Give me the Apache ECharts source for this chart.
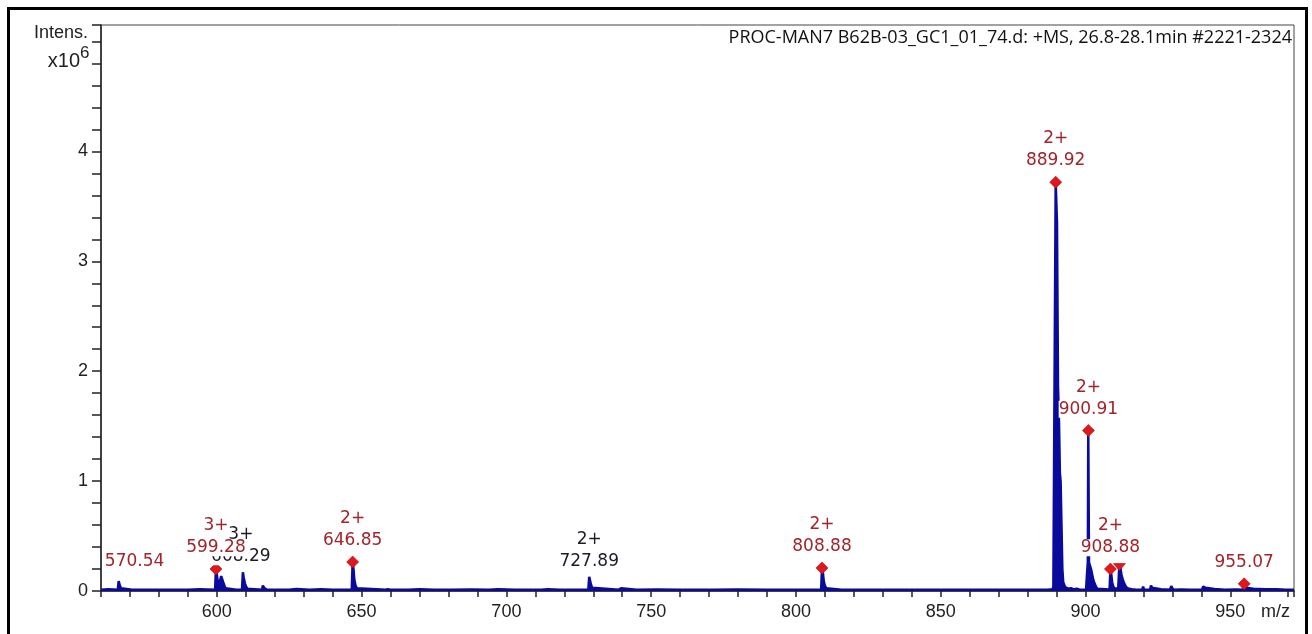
<!DOCTYPE html>
<html>
<head>
<meta charset="utf-8">
<title>MS spectrum</title>
<script src="https://cdn.jsdelivr.net/npm/echarts@6/dist/echarts.min.js"></script>
<style>
	html, body { margin: 0; padding: 0; background: #fff; }
	#main { width: 1312px; height: 634px; }
</style>
</head>
<body>
<div id="main"></div>
<script>
// spectrum, intensity in units of 10^6
var mz = [
	560.0, 562.5, 563.0, 565.8, 566.1, 566.5, 566.9, 567.4, 570.8, 571.0, 571.3, 575.0, 578.2, 578.5, 578.8,
	585.2, 585.5, 585.8, 590.0, 594.0, 599.4, 599.7, 600.0, 600.3, 600.7, 601.2, 601.5, 601.9, 602.2, 602.6,
	603.0, 603.6, 606.7, 606.9, 607.2, 608.7, 609.0, 609.3, 609.7, 610.1, 610.6, 611.2, 615.6, 615.9, 616.3,
	616.8, 617.3, 619.1, 619.3, 619.6, 625.0, 627.5, 627.8, 632.0, 636.0, 640.0, 646.6, 646.9, 647.2, 647.5,
	647.9, 648.4, 649.0, 658.3, 658.6, 659.0, 659.6, 660.0, 666.0, 670.0, 675.0, 681.0, 688.0, 694.0, 697.0,
	703.0, 703.3, 703.6, 712.0, 714.3, 714.6, 718.6, 718.9, 719.2, 724.0, 728.3, 728.6, 728.9, 729.2, 729.6,
	730.1, 738.8, 739.0, 739.6, 739.9, 745.0, 752.0, 760.0, 771.0, 780.0, 790.0, 800.0, 808.7, 809.0, 809.3,
	809.6, 810.0, 810.5, 811.1, 815.7, 815.9, 816.2, 825.0, 835.0, 845.0, 854.8, 855.0, 855.3, 863.8, 864.0,
	864.3, 872.0, 879.8, 880.0, 880.3, 887.0, 888.6, 888.9, 889.2, 889.45, 889.7, 889.95, 890.15, 890.35, 890.5,
	890.7, 890.85, 891.0, 891.15, 891.4, 891.7, 892.0, 892.3, 892.7, 893.2, 893.8, 894.3, 895.0, 896.0, 897.0,
	898.0, 899.5, 900.2, 900.5, 900.8, 900.95, 901.1, 901.2, 901.5, 901.9, 902.3, 902.7, 903.1, 903.6, 904.1,
	904.6, 907.0, 908.3, 908.6, 908.9, 909.2, 909.6, 910.1, 910.7, 911.3, 911.7, 912.0, 912.4, 912.8, 913.2,
	913.7, 914.2, 915.0, 916.0, 917.5, 919.6, 919.9, 920.2, 922.3, 922.6, 923.0, 923.4, 926.0, 929.2, 929.6,
	929.9, 930.3, 933.0, 936.3, 936.6, 937.0, 940.3, 940.6, 941.0, 941.4, 941.8, 944.5, 948.0, 952.0, 954.4,
	954.8, 955.2, 955.6, 958.0, 958.4, 962.0, 966.0, 969.0, 972.0
];
var intens = [
	0.012, 0.015, 0.012, 0.012, 0.09, 0.05, 0.025, 0.012, 0.012, 0.025, 0.012, 0.012, 0.012, 0.02, 0.012,
	0.012, 0.02, 0.012, 0.012, 0.015, 0.012, 0.2, 0.15, 0.09, 0.05, 0.04, 0.135, 0.135, 0.08, 0.05,
	0.025, 0.012, 0.012, 0.03, 0.012, 0.012, 0.17, 0.12, 0.07, 0.04, 0.02, 0.012, 0.012, 0.05, 0.03,
	0.018, 0.012, 0.012, 0.022, 0.012, 0.012, 0.018, 0.012, 0.012, 0.015, 0.012, 0.012, 0.264, 0.2, 0.1,
	0.05, 0.025, 0.012, 0.012, 0.03, 0.015, 0.022, 0.012, 0.012, 0.016, 0.012, 0.012, 0.014, 0.012, 0.015,
	0.012, 0.018, 0.012, 0.012, 0.016, 0.012, 0.012, 0.02, 0.012, 0.012, 0.012, 0.13, 0.12, 0.06, 0.03,
	0.012, 0.012, 0.025, 0.025, 0.012, 0.012, 0.014, 0.012, 0.012, 0.014, 0.012, 0.012, 0.012, 0.21, 0.17,
	0.09, 0.045, 0.025, 0.012, 0.012, 0.025, 0.012, 0.012, 0.012, 0.012, 0.012, 0.02, 0.012, 0.012, 0.02,
	0.012, 0.012, 0.012, 0.025, 0.012, 0.012, 0.015, 0.04, 0.03, 0.04, 3.72, 3.72, 3.35, 3.35, 1.86,
	1.86, 1.53, 1.53, 1.07, 1.0, 0.6, 0.2, 0.08, 0.05, 0.03, 0.04, 0.02, 0.025, 0.015, 0.02,
	0.012, 0.012, 0.012, 0.15, 0.26, 1.46, 1.46, 0.26, 0.25, 0.2, 0.15, 0.1, 0.07, 0.04, 0.02,
	0.012, 0.015, 0.012, 0.2, 0.15, 0.08, 0.04, 0.02, 0.02, 0.025, 0.245, 0.22, 0.15, 0.11, 0.08,
	0.05, 0.03, 0.02, 0.015, 0.012, 0.012, 0.04, 0.012, 0.012, 0.05, 0.03, 0.012, 0.015, 0.012, 0.045,
	0.03, 0.012, 0.014, 0.012, 0.022, 0.012, 0.012, 0.04, 0.025, 0.03, 0.012, 0.018, 0.012, 0.014, 0.012,
	0.05, 0.03, 0.012, 0.02, 0.012, 0.016, 0.016, 0.012, 0.012
];

// peak annotations (black ones first so the red ones sit on top)
var annoText = ['608.29', '727.89', '570.54', '599.28', '646.85', '808.88', '889.92', '900.91', '', '908.88', '955.07'];
var annoCharge = ['3+', '2+', '', '3+', '2+', '2+', '2+', '2+', '', '2+', ''];
var annoMz = [608.3, 728.6, 571.6, 599.7, 646.9, 809.0, 889.7, 901.0, 911.7, 908.6, 954.8];
var annoInt = [0.17, 0.13, 0.13, 0.2, 0.264, 0.21, 3.72, 1.46, 0.245, 0.2, 0.065];
var annoSymbol = ['none', 'none', 'none', 'diamond', 'diamond', 'diamond', 'diamond', 'diamond', 'half', 'diamond', 'diamond'];
var annoColor = ['#1c1c28', '#1c1c28', '#a3242a', '#a3242a', '#a3242a', '#a3242a', '#a3242a', '#a3242a', '#a3242a', '#a3242a', '#a3242a'];

var xTicks = [600, 650, 700, 750, 800, 850, 900, 950];
var yTicks = [0, 1, 2, 3, 4];

var blue = '#0a0a9c';

var spectrum = [];
for(var i = 0; i < mz.length; i++) {
	spectrum.push([mz[i], intens[i]]);
}

var marks = [];
for(var j = 0; j < annoMz.length; j++) {
	var col = annoColor[j];
	var txt = (annoCharge[j] ? '{c|' + annoCharge[j] + '}\n' : '') + '{v|' + annoText[j] + '}';
	var sym = annoSymbol[j];
	var item = {
		coord: [annoMz[j], annoInt[j]],
		symbol: 'diamond',
		symbolSize: [12, 12],
		itemStyle: { color: '#e3161c', borderColor: '#9c1010', borderWidth: 0.6 },
		label: {
			show: annoText[j] !== '',
			position: 'top',
			distance: 4,
			formatter: txt,
			rich: {
				c: { color: col, fontSize: 17, fontFamily: 'DejaVu Sans', lineHeight: 22, backgroundColor: '#fff', align: 'center' },
				v: { color: col, fontSize: 17, fontFamily: 'DejaVu Sans', lineHeight: 22, backgroundColor: '#fff', align: 'center' }
			}
		}
	};
	if(sym === 'none') {
		item.symbolSize = [1, 1];
		item.itemStyle = { color: 'rgba(0,0,0,0)', borderWidth: 0 };
	} else if(sym === 'half') {
		// lower half of a diamond, the upper half sits under the neighbour's label
		item.symbol = 'path://M0,0 L12,0 L6,7 Z';
		item.symbolSize = [12, 7];
		item.symbolOffset = [0, 3];
	}
	marks.push(item);
}

var myChart = echarts.init(document.getElementById('main'));
var option = {
	backgroundColor: '#fff',
	animation: false,
	grid: {
		left: 101,
		right: 18,
		top: 25,
		bottom: 43,
		show: true,
		borderColor: '#444',
		borderWidth: 1
	},
	xAxis: {
		type: 'value',
		min: 560,
		max: 972,
		interval: 10,
		axisLine: { lineStyle: { color: '#222', width: 1.5 } },
		axisTick: { length: 6, lineStyle: { color: '#222', width: 1.5 } },
		axisLabel: {
			color: '#222',
			fontSize: 18,
			fontFamily: 'Liberation Sans',
			margin: 12,
			formatter: function(v) {
				return xTicks.indexOf(v) >= 0 ? String(v) : '';
			}
		},
		splitLine: { show: false }
	},
	yAxis: {
		type: 'value',
		min: 0,
		max: 5.15,
		interval: 1,
		axisLine: { show: true, lineStyle: { color: '#222', width: 1.5 } },
		axisTick: { show: true, length: 9, lineStyle: { color: '#222', width: 1.5 } },
		minorTick: { show: true, splitNumber: 5, length: 9, lineStyle: { color: '#222', width: 1.5 } },
		axisLabel: {
			color: '#222',
			fontSize: 18,
			fontFamily: 'Liberation Sans',
			margin: 13,
			formatter: function(v) {
				return yTicks.indexOf(v) >= 0 ? String(v) : '';
			}
		},
		splitLine: { show: false }
	},
	graphic: [
		{ type: 'rect', shape: { x: 8.5, y: 8.5, width: 1298, height: 640 }, style: { fill: 'none', stroke: '#000', lineWidth: 3 }, silent: true },
		{ type: 'text', right: 1312 - 88, top: 24, style: { text: 'Intens.', fill: '#222', font: '18px "Liberation Sans"' } },
		{ type: 'text', right: 1312 - 80, top: 51, style: { text: 'x10', fill: '#222', font: '20px "Liberation Sans"' } },
		{ type: 'text', left: 80, top: 45, style: { text: '6', fill: '#222', font: '17px "Liberation Sans"' } },
		{ type: 'text', left: 1261, top: 603, style: { text: 'm/z', fill: '#222', font: '18px "Liberation Sans"' } },
		{ type: 'text', right: 20, top: 29, style: { text: 'PROC-MAN7 B62B-03_GC1_01_74.d: +MS, 26.8-28.1min #2221-2324', fill: '#111', font: '18px "Open Sans"' } }
	],
	series: [{
		type: 'line',
		data: spectrum,
		showSymbol: false,
		lineStyle: { color: blue, width: 2.5 },
		areaStyle: { color: blue, opacity: 1 },
		markPoint: {
			data: marks
		}
	}]
};
myChart.setOption(option);

window.onresize = function() {
	myChart.resize();
}
</script>
</body>
</html>
